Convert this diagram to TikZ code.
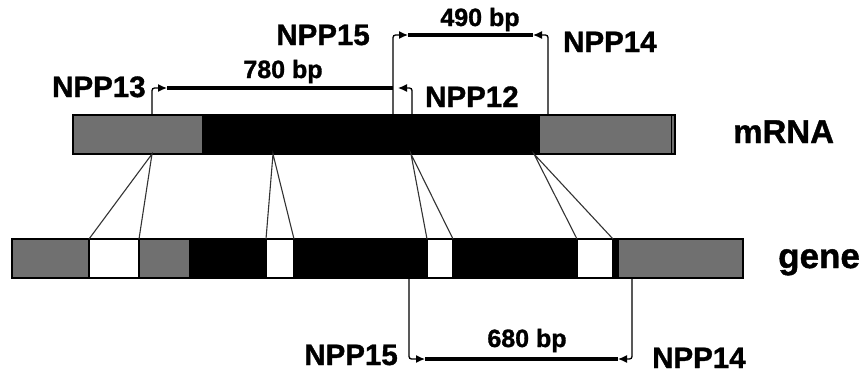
\documentclass[tikz,border=0pt]{standalone}
\usepackage{fontspec}
\setmainfont{Liberation Sans}
\newfontfamily\hv{Liberation Sans Bold}[FakeBold=1.2]
\usetikzlibrary{arrows.meta}
\definecolor{utr}{RGB}{112,112,112}
\tikzset{
  seg/.style={draw=black, line width=1.2pt},
  link/.style={draw=black!80, line width=1.1pt},
  primer/.style={draw=black, line width=1.3pt, rounded corners=2.5pt, -{Latex[length=9pt,width=8pt]}},
  amp/.style={draw=black, line width=4.5pt},
  lab/.style={font=\fontsize{29.5}{30}\hv, inner sep=0pt},
  bplab/.style={font=\fontsize{25}{25}\hv, inner sep=0pt},
}
\begin{document}
\begin{tikzpicture}[x=1pt,y=-1pt]
\useasboundingbox (0,0) rectangle (861,373);
% ---- mRNA bar ----
\fill[utr] (73,115) rectangle (675,154);
\fill[black] (202,115) rectangle (540,154);
\draw[seg] (73,115) rectangle (675,154);
\draw[black, line width=1pt] (671,115) -- (671,154);
% ---- gene bar ----
\fill[utr] (12,239) rectangle (89,278);
\fill[white] (89,239) rectangle (139,278);
\fill[utr] (139,239) rectangle (189,278);
\fill[black] (189,239) rectangle (266,278);
\fill[white] (266,239) rectangle (294,278);
\fill[black] (294,239) rectangle (427,278);
\fill[white] (427,239) rectangle (453,278);
\fill[black] (453,239) rectangle (577,278);
\fill[white] (577,239) rectangle (613,278);
\fill[black] (613,239) rectangle (618,278);
\fill[utr] (618,239) rectangle (743,278);
\draw[seg] (12,239) rectangle (743,278);
\foreach \x in {89,139,266,294,427,453,577,613,618} \draw[seg] (\x,239) -- (\x,278);
% ---- junction coordinates ----
\coordinate (j1) at (152,154);
\coordinate (j2) at (273,154);
\coordinate (j3) at (411,154);
\coordinate (j4) at (534,154);
\coordinate (g1a) at (89,239);  \coordinate (g1b) at (139,239);
\coordinate (g2a) at (266,239); \coordinate (g2b) at (294,239);
\coordinate (g3a) at (427,239); \coordinate (g3b) at (453,239);
\coordinate (g4a) at (577,239); \coordinate (g4b) at (613,239);
\draw[link] (g1a) -- (j1) -- (g1b);
\draw[link] (g2a) -- (j2) -- (g2b);
\draw[link] (g3a) -- (j3) -- (g3b);
\draw[link] (g4a) -- (j4) -- (g4b);
% ---- primers on mRNA ----
\coordinate (p13) at (152,115); \coordinate (t13) at (167,88);
\coordinate (p12) at (412,115); \coordinate (t12) at (398,88);
\coordinate (p15) at (393,115); \coordinate (t15) at (408,35);
\coordinate (p14) at (548,115); \coordinate (t14) at (533,35);
\coordinate (e780) at (393,88);
\draw[primer] (p13) |- (t13);
\draw[primer] (p12) |- (t12);
\draw[primer] (p15) |- (t15);
\draw[primer] (p14) |- (t14);
\draw[amp] (t13) -- (e780);
\draw[amp] (t15) -- (t14);
% ---- primers on gene ----
\coordinate (q15) at (409,278); \coordinate (u15) at (425,359);
\coordinate (q14) at (632,278); \coordinate (u14) at (618,359);
\draw[primer] (q15) |- (u15);
\draw[primer] (q14) |- (u14);
\draw[amp] (u15) -- (u14);
% ---- labels ----
\node[lab, anchor=base west] (l13) at (52,97) {NPP13};
\node[lab, anchor=base east] (l15) at (370,45) {NPP15};
\node[lab, anchor=base west] (l14) at (563,52) {NPP14};
\node[lab, anchor=base west] (l12) at (425,107) {NPP12};
\node[bplab, anchor=base] (b780) at (283,78) {780 bp};
\node[bplab, anchor=base] (b490) at (480,26) {490 bp};
\node[lab, anchor=base west, font=\fontsize{33}{33}\hv] (lm) at (733,143) {mRNA};
\node[lab, anchor=base west, font=\fontsize{35}{35}\hv] (lg) at (778,268) {gene};
\node[lab, anchor=base east] (l15b) at (398,365) {NPP15};
\node[bplab, anchor=base] (b680) at (527,347) {680 bp};
\node[lab, anchor=base west] (l14b) at (652,368) {NPP14};
\end{tikzpicture}
\end{document}
